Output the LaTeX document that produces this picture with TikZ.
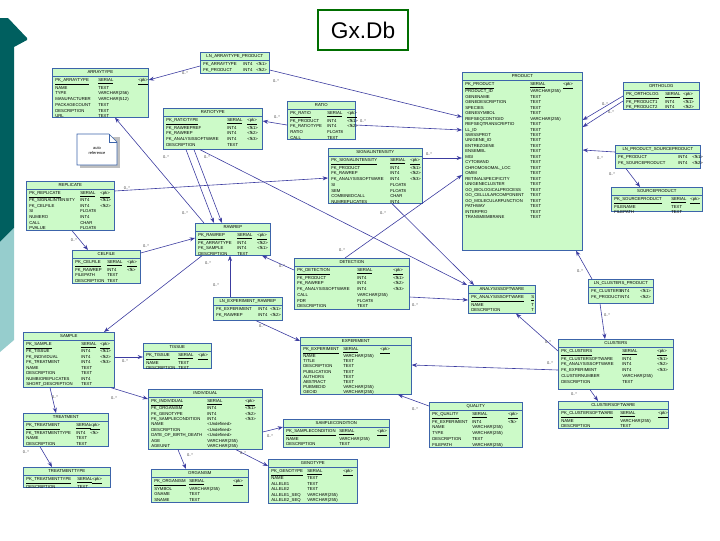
\documentclass[tikz,border=0pt]{standalone}
\usepackage{fontspec}
\setmainfont{Liberation Sans}
\usepackage{array}
\usetikzlibrary{arrows.meta,calc}
\definecolor{tfill}{RGB}{204,250,200}
\definecolor{tborder}{RGB}{60,100,170}
\definecolor{connc}{RGB}{60,60,160}
\definecolor{tealA}{RGB}{0,95,95}
\definecolor{tealB}{RGB}{150,205,205}
\definecolor{titlegreen}{RGB}{0,110,0}
\newdimen\pxu \pxu=0.75pt
\def\rp{4.3}
\newcommand\pk[3]{\underline{#1} & \underline{#2} & \underline{#3}\\}
\newcommand\erT[9]{%
  \node[tblbox,minimum width=#4*0.75pt,minimum height=#5*0.75pt] (#1) at (#2,#3) {};
  \node[tblhead] (#1-h) at ($(#1.north)+(0,4.3)$) {#6};
  \draw[tblsep] ($(#1.north west)+(0,8.5)$) -- ($(#1.north east)+(0,8.5)$);
  \node[tblbody] (#1-b) at ($(#1.north west)+(3,9.3)$) {\fontsize{3.2}{\rp}\selectfont\begin{tabular}{@{}w{l}{\dimexpr#7\pxu-3\pxu\relax}@{}w{l}{\dimexpr#8\pxu-#7\pxu\relax}@{}l@{}}#9\end{tabular}};
}
\tikzset{
  tblbox/.style={draw=tborder,fill=tfill,line width=0.5pt,inner sep=0pt,anchor=north west},
  tblhead/.style={inner sep=0pt,anchor=center,font=\fontsize{3.2}{4}\selectfont},
  tblsep/.style={draw=tborder,line width=0.4pt},
  tblbody/.style={inner sep=0pt,anchor=north west},
  conn/.style={draw=connc,line width=0.45pt,-{Stealth[length=4pt,width=3pt]}},
  card/.style={inner sep=0pt,font=\fontsize{3}{3}\selectfont,text=black!75},
}
\begin{document}
\begin{tikzpicture}[x=0.75pt,y=-0.75pt]
\useasboundingbox (0,0) rectangle (720,540);
% left decoration
\fill[tealA] (0,18) -- (8,18) -- (27,38) -- (27,40) -- (14,47) -- (14,228) -- (0,242) -- cycle;
\fill[tealB] (0,242) -- (14,228) -- (14,340) -- (0,352) -- cycle;
% title
\node[draw=titlegreen,line width=2.2pt,fill=white,minimum width=90*0.75pt,minimum height=40*0.75pt,inner sep=0pt,font=\fontsize{17}{20}\selectfont] (title) at (363,30) {Gx.Db};
% note
\fill[black!25] (80,137) -- (120,137) -- (120,168) -- (80,168) -- cycle;
\draw[tborder,fill=white,line width=0.4pt] (77,134) -- (109,134) -- (117,142) -- (117,165) -- (77,165) -- cycle;
\draw[tborder,line width=0.4pt] (109,134) -- (109,142) -- (117,142);
\node[inner sep=0pt,align=center,font=\fontsize{3}{4}\selectfont] (note) at (97,151) {auto\\reference};

% tables
\erT{arraytype}{52}{68}{96}{49}{ARRAYTYPE}{46}{86}{%
\pk{PK\_ARRAYTYPE}{SERIAL}{<pk>}
NAME & TEXT & \\
TYPE & VARCHAR(256) & \\
MANUFACTURER & VARCHAR(512) & \\
PACKAGECOUNT & TEXT & \\
DESCRIPTION & TEXT & \\
URL & TEXT & \\}
\erT{lnap}{200}{52}{69}{21}{LN\_ARRAYTYPE\_PRODUCT}{43}{56}{%
FK\_ARRAYTYPE & INT4 & <fk1>\\
FK\_PRODUCT & INT4 & <fk2>\\}
\erT{ratiotype}{163}{108}{99}{41}{RATIOTYPE}{64}{84}{%
\pk{PK\_RATIOTYPE}{SERIAL}{<pk>}
FK\_RAWREPREF & INT4 & <fk1>\\
FK\_RAWREP & INT4 & <fk2>\\
FK\_ANALYSISSOFTWARE & INT4 & <fk3>\\
DESCRIPTION & TEXT & \\}
\erT{ratio}{287}{101}{68}{38}{RATIO}{40}{60}{%
\pk{PK\_RATIO}{SERIAL}{<pk>}
FK\_PRODUCT & INT4 & <fk1>\\
FK\_RATIOTYPE & INT4 & <fk2>\\
RATIO & FLOAT8 & \\
CALL & TEXT & \\}
\erT{signal}{328}{148}{94}{55}{SIGNALINTENSITY}{62}{82}{%
\pk{PK\_SIGNALINTENSITY}{SERIAL}{<pk>}
FK\_PRODUCT & INT4 & <fk1>\\
FK\_RAWREP & INT4 & <fk2>\\
FK\_ANALYSISSOFTWARE & INT4 & <fk3>\\
SI & FLOAT8 & \\
SEM & FLOAT8 & \\
COMBINEDCALL & CHAR & \\
NUMREPLICATES & INT4 & \\}
\erT{rawrep}{195}{223}{75}{32}{RAWREP}{42}{62}{%
\pk{PK\_RAWREP}{SERIAL}{<pk>}
FK\_ARRAYTYPE & INT4 & <fk2>\\
FK\_SAMPLE & INT4 & <fk1>\\
DESCRIPTION & TEXT & \\}
\erT{detection}{294}{258}{115}{51}{DETECTION}{63}{99}{%
\pk{PK\_DETECTION}{SERIAL}{<pk>}
FK\_PRODUCT & INT4 & <fk1>\\
FK\_RAWREP & INT4 & <fk2>\\
FK\_ANALYSISSOFTWARE & INT4 & <fk3>\\
CALL & VARCHAR(255) & \\
FDR & FLOAT8 & \\
DESCRIPTION & TEXT & \\}
\erT{lner}{213}{297}{69}{23}{LN\_EXPERIMENT\_RAWREP}{45}{57}{%
FK\_EXPERIMENT & INT4 & <fk1>\\
FK\_RAWREP & INT4 & <fk2>\\}
\erT{analysis}{468}{285}{67}{28}{ANALYSISSOFTWARE}{63}{67}{%
\pk{PK\_ANALYSISSOFTWARE}{S}{}
NAME & T & \\
DESCRIPTION & T & \\}
\erT{lncp}{588}{279}{65}{24}{LN\_CLUSTERS\_PRODUCT}{32}{52}{%
FK\_CLUSTERS & INT4 & <fk1>\\
FK\_PRODUCT & INT4 & <fk2>\\}
\erT{clusters}{558}{339}{115}{50}{CLUSTERS}{64}{99}{%
\pk{PK\_CLUSTERS}{SERIAL}{<pk>}
FK\_CLUSTERSOFTWARE & INT4 & <fk1>\\
FK\_ANALYSISSOFTWARE & INT4 & <fk2>\\
FK\_EXPERIMENT & INT4 & <fk3>\\
CLUSTERNUMBER & VARCHAR(255) & \\
DESCRIPTION & TEXT & \\}
\erT{clustsw}{558}{401}{110}{27}{CLUSTERSOFTWARE}{62}{100}{%
\pk{PK\_CLUSTERSOFTWARE}{SERIAL}{<pk>}
NAME & VARCHAR(255) & \\
DESCRIPTION & TEXT & \\}
\erT{quality}{429}{402}{93}{45}{QUALITY}{43}{79}{%
\pk{PK\_QUALITY}{SERIAL}{<pk>}
FK\_EXPERIMENT & INT4 & <fk>\\
NAME & VARCHAR(255) & \\
TYPE & VARCHAR(255) & \\
DESCRIPTION & TEXT & \\
FILEPATH & VARCHAR(255) & \\}
\def\rp{3.9}
\erT{experiment}{300}{337}{111}{57}{EXPERIMENT}{43}{80}{%
\pk{PK\_EXPERIMENT}{SERIAL}{<pk>}
NAME & VARCHAR(255) & \\
TITLE & TEXT & \\
DESCRIPTION & TEXT & \\
PUBLICATION & TEXT & \\
AUTHORS & TEXT & \\
ABSTRACT & TEXT & \\
PUBMEDID & VARCHAR(255) & \\
GEOID & VARCHAR(255) & \\}
\def\rp{4.3}
\erT{samplecond}{283}{419}{106}{28}{SAMPLECONDITION}{56}{94}{%
\pk{PK\_SAMPLECONDITION}{SERIAL}{<pk>}
NAME & VARCHAR(255) & \\
DESCRIPTION & TEXT & \\}
\def\rp{4.1}
\erT{genotype}{268}{459}{89}{44}{GENOTYPE}{39}{75}{%
\pk{PK\_GENOTYPE}{SERIAL}{<pk>}
NAME & TEXT & \\
ALLELE1 & TEXT & \\
ALLELE2 & TEXT & \\
ALLELE1\_SEQ & VARCHAR(255) & \\
ALLELE2\_SEQ & VARCHAR(255) & \\}
\def\rp{4.05}
\erT{individual}{148}{389}{114}{60}{INDIVIDUAL}{59}{97}{%
\pk{PK\_INDIVIDUAL}{SERIAL}{<pk>}
FK\_ORGANISM & INT4 & <fk1>\\
FK\_GENOTYPE & INT4 & <fk2>\\
FK\_SAMPLECONDITION & INT4 & <fk3>\\
NAME & <Undefined> & \\
DESCRIPTION & <Undefined> & \\
DATE\_OF\_BIRTH\_DEATH & <Undefined> & \\
AGE & VARCHAR(255) & \\
AGEUNIT & VARCHAR(255) & \\}
\def\rp{4.3}
\erT{organism}{151}{469}{97}{33}{ORGANISM}{38}{82}{%
\pk{PK\_ORGANISM}{SERIAL}{<pk>}
SYMBOL & VARCHAR(255) & \\
GNAME & TEXT & \\
SNAME & TEXT & \\}
\def\rp{4.1}
\erT{sample}{23}{332}{91}{55}{SAMPLE}{58}{77}{%
\pk{PK\_SAMPLE}{SERIAL}{<pk>}
FK\_TISSUE & INT4 & <fk1>\\
FK\_INDIVIDUAL & INT4 & <fk2>\\
FK\_TREATMENT & INT4 & <fk3>\\
NAME & TEXT & \\
DESCRIPTION & TEXT & \\
NUMBIOREPLICATES & INT4 & \\
SHORT\_DESCRIPTION & TEXT & \\}
\def\rp{4.3}
\erT{tissue}{143}{343}{68}{25}{TISSUE}{35}{55}{%
\pk{PK\_TISSUE}{SERIAL}{<pk>}
NAME & TEXT & \\
DESCRIPTION & TEXT & \\}
\erT{treatment}{23}{413}{85}{33}{TREATMENT}{53}{67}{%
\pk{PK\_TREATMENT}{SERIAL}{<pk>}
FK\_TREATMENTTYPE & INT4 & <fk>\\
NAME & TEXT & \\
DESCRIPTION & TEXT & \\}
\erT{treattype}{23}{467}{87}{20}{TREATMENTTYPE}{54}{69}{%
\pk{PK\_TREATMENTTYPE}{SERIAL}{<pk>}
DESCRIPTION & TEXT & \\}
\def\rp{4.15}
\erT{replicate}{26}{181}{88}{49}{REPLICATE}{54}{74}{%
\pk{PK\_REPLICATE}{SERIAL}{<pk>}
FK\_SIGNALINTENSITY & INT4 & <fk1>\\
FK\_CELFILE & INT4 & <fk2>\\
SI & FLOAT8 & \\
NUMERO & INT4 & \\
CALL & CHAR & \\
PVALUE & FLOAT8 & \\}
\def\rp{4.3}
\erT{celfile}{72}{250}{68}{33}{CELFILE}{35}{55}{%
\pk{PK\_CELFILE}{SERIAL}{<pk>}
FK\_RAWREP & INT4 & <fk>\\
FILEPATH & TEXT & \\
DESCRIPTION & TEXT & \\}
\def\rp{4.1}
\erT{product}{462}{72}{120}{178}{PRODUCT}{68}{101}{%
\pk{PK\_PRODUCT}{SERIAL}{<pk>}
PRODUCT\_ID & VARCHAR(255) & \\
GENENAME & TEXT & \\
GENEDESCRIPTION & TEXT & \\
SPECIES & TEXT & \\
GENESYMBOL & TEXT & \\
REFSEQCONTIGID & VARCHAR(255) & \\
REFSEQTRANSCRIPTID & TEXT & \\
LL\_ID & TEXT & \\
SWISSPROT & TEXT & \\
UNIGENE\_ID & TEXT & \\
ENTREZGENE & TEXT & \\
ENSEMBL & TEXT & \\
MGI & TEXT & \\
CYTOBAND & TEXT & \\
CHROMOSOMAL\_LOC & TEXT & \\
OMIM & TEXT & \\
RETINALSPECIFICITY & TEXT & \\
UNIGENECLUSTER & TEXT & \\
GO\_BIOLOGICALPROCESS & TEXT & \\
GO\_CELLULARCOMPONENT & TEXT & \\
GO\_MOLECULARFUNCTION & TEXT & \\
PATHWAY & TEXT & \\
INTERPRO & TEXT & \\
TRANSMEMBRANE & TEXT & \\}
\def\rp{4.3}
\erT{ortholog}{623}{82}{76}{27}{ORTHOLOG}{42}{60}{%
\pk{PK\_ORTHOLOG}{SERIAL}{<pk>}
FK\_PRODUCT1 & INT4 & <fk1>\\
FK\_PRODUCT2 & INT4 & <fk2>\\}
\erT{lnps}{615}{145}{85}{23}{LN\_PRODUCT\_SOURCEPRODUCT}{63}{77}{%
FK\_PRODUCT & INT4 & <fk1>\\
FK\_SOURCEPRODUCT & INT4 & <fk2>\\}
\erT{sourceprod}{611}{187}{91}{24}{SOURCEPRODUCT}{60}{79}{%
\pk{PK\_SOURCEPRODUCT}{SERIAL}{<pk>}
FILENAME & TEXT & \\
FILEPATH & TEXT & \\}

% connectors
\draw[conn] (lnap.west |- 0,66) -- (arraytype.east |- 0,80);
\draw[conn] (lnap.east |- 0,70) -- (product.west |- 0,117);
\draw[conn] (ratio.east |- 0,125) -- (product.west |- 0,130);
\draw[conn] (ratio.west |- 0,125) -- (ratiotype.east |- 0,121);
\draw[conn] (signal.east |- 0,158) -- (product.west |- 0,158);
\draw[conn] (detection.north -| 345,0) -- (product.west |- 0,175);
\draw[conn] (signal.south -| 392,0) -- (analysis.north -| 474,0);
\draw[conn] (ratiotype.south -| 200,0) -- (analysis.north -| 467,0);
\draw[conn] (ratiotype.south -| 186,0) -- (rawrep.north -| 214,0);
\draw[conn] (ratiotype.south -| 194,0) -- (rawrep.north -| 222,0);
\draw[conn] (rawrep.north -| 204,0) -- (arraytype.south -| 115,0);
\draw[conn] (replicate.east |- 0,191) -- (signal.west |- 0,178);
\draw[conn] (replicate.south -| 72,0) -- (celfile.north -| 88,0);
\draw[conn] (celfile.east |- 0,253) -- (rawrep.west |- 0,238);
\draw[conn] (rawrep.south -| 202,0) -- (sample.north -| 104,0);
\draw[conn] (lner.north -| 230,0) -- (rawrep.south -| 230,0);
\draw[conn] (lner.south -| 256,0) -- (experiment.west |- 0,341);
\draw[conn] (detection.west |- 0,270) -- (rawrep.south -| 262,0);
\draw[conn] (detection.east |- 0,297) -- (analysis.west |- 0,300);
\draw[conn] (ortholog.west |- 0,96) -- (product.east |- 0,120);
\draw[conn] (ortholog.west |- 0,101) -- (product.east |- 0,127);
\draw[conn] (lnps.west |- 0,152) -- (product.east |- 0,150);
\draw[conn] (lnps.south -| 626,0) -- (sourceprod.north -| 640,0);
\draw[conn] (lncp.north -| 592,0) -- (product.south -| 576,0);
\draw[conn] (lncp.south -| 600,0) -- (clusters.north -| 605,0);
\draw[conn] (clusters.west |- 0,351) -- (analysis.south -| 516,0);
\draw[conn] (clusters.west |- 0,370) -- (experiment.east |- 0,365);
\draw[conn] (clusters.south -| 590,0) -- (clustsw.north -| 598,0);
\draw[conn] (quality.west |- 0,406) -- (experiment.south -| 398,0);
\draw[conn] (sample.east |- 0,357) -- (tissue.west |- 0,357);
\draw[conn] (sample.south -| 111,0) -- (individual.west |- 0,399);
\draw[conn] (sample.south -| 50,0) -- (treatment.north -| 56,0);
\draw[conn] (treatment.south -| 40,0) -- (treattype.north -| 52,0);
\draw[conn] (individual.south -| 178,0) -- (organism.north -| 186,0);
\draw[conn] (individual.east |- 0,432) -- (samplecond.west |- 0,427);
\draw[conn] (individual.south -| 236,0) -- (genotype.west |- 0,466);

% cardinalities
\node[card] (k1) at (185,73) {0..*};
\node[card] (k2) at (276,81) {0..*};
\node[card] (k3) at (363,121) {0..*};
\node[card] (k4) at (277,117) {0..*};
\node[card] (k5) at (429,154) {0..*};
\node[card] (k6) at (342,250) {0..*};
\node[card] (k7) at (383,213) {0..*};
\node[card] (k8) at (207,157) {0..*};
\node[card] (k9) at (166,157) {0..*};
\node[card] (k10) at (185,213) {0..*};
\node[card] (k11) at (127,188) {0..*};
\node[card] (k12) at (74,240) {0..*};
\node[card] (k13) at (146,246) {0..*};
\node[card] (k14) at (208,263) {0..*};
\node[card] (k15) at (216,285) {0..*};
\node[card] (k16) at (262,326) {0..*};
\node[card] (k17) at (282,266) {0..*};
\node[card] (k18) at (415,305) {0..*};
\node[card] (k19) at (605,104) {0..*};
\node[card] (k20) at (611,112) {0..*};
\node[card] (k21) at (600,158) {0..*};
\node[card] (k22) at (612,174) {0..*};
\node[card] (k23) at (580,271) {0..*};
\node[card] (k24) at (607,315) {0..*};
\node[card] (k25) at (548,342) {0..*};
\node[card] (k26) at (550,363) {0..*};
\node[card] (k27) at (574,394) {0..*};
\node[card] (k28) at (415,409) {0..*};
\node[card] (k29) at (125,361) {0..*};
\node[card] (k30) at (114,398) {0..*};
\node[card] (k31) at (55,397) {0..*};
\node[card] (k32) at (26,452) {0..*};
\node[card] (k33) at (190,455) {0..*};
\node[card] (k34) at (270,436) {0..*};
\node[card] (k35) at (243,453) {0..*};
\end{tikzpicture}
\end{document}
